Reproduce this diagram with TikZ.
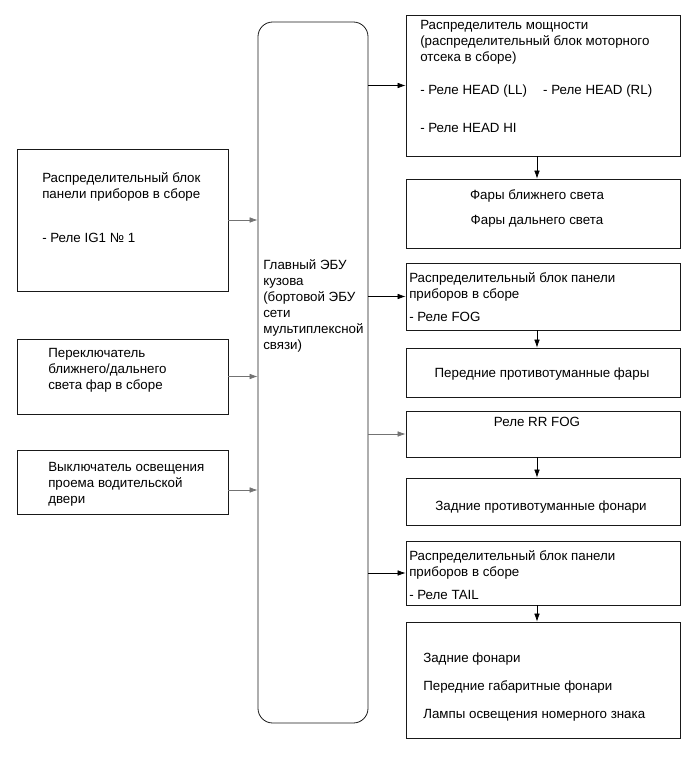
\documentclass[tikz,border=0pt]{standalone}
\usepackage{fontspec}
\setmainfont{Liberation Sans}
\usetikzlibrary{arrows.meta}
\definecolor{boxline}{gray}{0.1}
\definecolor{linkgray}{gray}{0.45}
\tikzset{
  box/.style={draw=boxline,line width=0.6pt,rectangle,inner sep=0pt},
  ebubox/.style={box,rounded corners=11pt},
  txt/.style={font=\fontsize{10}{12}\selectfont,inner sep=0pt,align=left,anchor=base west},
  ctxt/.style={font=\fontsize{10}{12}\selectfont,inner sep=0pt,align=center,anchor=base},
  arr/.style={line width=0.5pt,-{Latex[length=6pt,width=4.2pt]}},
  garr/.style={arr,draw=linkgray},
}

\begin{document}
\begin{tikzpicture}[x=0.75pt,y=-0.75pt]
  \useasboundingbox (0,0) rectangle (691,757);
  \node[ebubox,minimum width=82.5pt,minimum height=525.75pt] (ebu) at (313,372.5) {};
  \node[txt] (ebut) at (263,349) {Главный ЭБУ\\кузова\\(бортовой ЭБУ\\сети\\мультиплексной\\связи)};
  \node[box,minimum width=158.25pt,minimum height=106.5pt] (l1) at (122.5,220) {};
  \node[txt] (l1t) at (42,242) {Распределительный блок\\панели приборов в сборе\\[21pt]- Реле IG1 № 1};
  \node[box,minimum width=158.25pt,minimum height=56.25pt] (l2) at (122.5,376.5) {};
  \node[txt] (l2t) at (48,389) {Переключатель\\ближнего/дальнего\\света фар в сборе};
  \node[box,minimum width=158.25pt,minimum height=48pt] (l3) at (122.5,482) {};
  \node[txt] (l3t) at (48,503) {Выключатель освещения\\проема водительской\\двери};
  \node[box,minimum width=205.5pt,minimum height=105.75pt] (r1) at (543,85.5) {};
  \node[txt] (r1t) at (420,132) {Распределитель мощности\\(распределительный блок моторного\\отсека в сборе)\\[12.75pt]\makebox[92.25pt][l]{- Реле HEAD (LL)}- Реле HEAD (RL)\\[16.5pt]- Реле HEAD HI};
  \node[box,minimum width=205.5pt,minimum height=51.75pt] (r2) at (543,213.5) {};
  \node[ctxt] (r2t) at (537,224) {Фары ближнего света\\[6.75pt]Фары дальнего света};
  \node[box,minimum width=205.5pt,minimum height=50.25pt] (r3) at (543,296.5) {};
  \node[txt] (r3t) at (409,321) {Распределительный блок панели\\приборов в сборе\\[5.25pt]- Реле FOG};
  \node[box,minimum width=205.5pt,minimum height=36.75pt] (r4) at (543,372.5) {};
  \node[ctxt] (r4t) at (542,377) {Передние противотуманные фары};
  \node[box,minimum width=205.5pt,minimum height=34.5pt] (r5) at (543,434) {};
  \node[ctxt] (r5t) at (537,426) {Реле RR FOG};
  \node[box,minimum width=205.5pt,minimum height=35.25pt] (r6) at (543,501.5) {};
  \node[ctxt] (r6t) at (541,510) {Задние противотуманные фонари};
  \node[box,minimum width=205.5pt,minimum height=48pt] (r7) at (543,573) {};
  \node[txt] (r7t) at (409,599) {Распределительный блок панели\\приборов в сборе\\[5.25pt]- Реле TAIL};
  \node[box,minimum width=205.5pt,minimum height=87pt] (r8) at (543,680) {};
  \node[txt] (r8t) at (423,718) {Задние фонари\\[9pt]Передние габаритные фонари\\[9pt]Лампы освещения номерного знака};
  \draw[garr] (l1.east) -- (l1.east -| ebu.west);
  \draw[garr] (l2.east) -- (l2.east -| ebu.west);
  \draw[garr] ([yshift=-6pt]l3.east) -- ([yshift=-6pt]l3.east -| ebu.west);
  \draw[arr] (ebu.east |- r1.west) -- (r1.west);
  \draw[arr] (ebu.east |- r3.west) -- (r3.west);
  \draw[garr] (ebu.east |- r5.west) -- (r5.west);
  \draw[arr] (ebu.east |- r7.west) -- (r7.west);
  \draw[arr] ([xshift=-4.5pt]r1.south) -- ([xshift=-4.5pt]r2.north);
  \draw[arr] ([xshift=-4.5pt]r3.south) -- ([xshift=-4.5pt]r4.north);
  \draw[arr] ([xshift=-4.5pt]r5.south) -- ([xshift=-4.5pt]r6.north);
  \draw[arr] ([xshift=-4.5pt]r7.south) -- ([xshift=-4.5pt]r8.north);
\end{tikzpicture}
\end{document}
